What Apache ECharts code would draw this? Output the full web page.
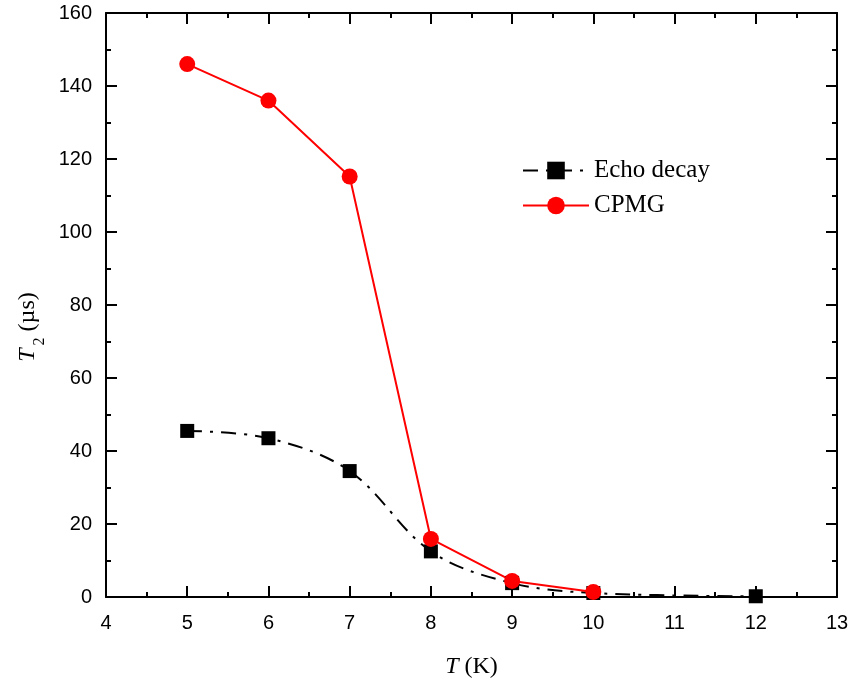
<!DOCTYPE html>
<html><head><meta charset="utf-8">
<script src="https://cdn.jsdelivr.net/npm/echarts@6/dist/echarts.min.js"></script>
<style>html,body{margin:0;padding:0;background:#fff}#c{width:853px;height:691px}</style>
</head><body><div id="c"></div>
<script>
const echoT = [5, 6, 7, 8, 9, 10, 12];
const echoVals = [45.5, 43.5, 34.5, 12.5, 3.8, 1.1, 0.2];
const cpmgT = [5, 6, 7, 8, 9, 10];
const cpmgVals = [146, 136, 115.2, 15.9, 4.4, 1.4];
const xTicks = [4,5,6,7,8,9,10,11,12,13];
const yTicks = [0,20,40,60,80,100,120,140,160];

const chart = echarts.init(document.getElementById('c'));
const axisLine = {show:true, onZero:false, lineStyle:{color:'#000', width:2}};
const axisTick = {show:true, inside:true, length:11, lineStyle:{color:'#000', width:2}};
const minorTick = {show:true, splitNumber:2, length:5, lineStyle:{color:'#000', width:2}};
const lbl = {color:'#000', fontSize:20, fontFamily:'Liberation Sans, Arial'};
const serif = 'Liberation Serif, Times New Roman';
chart.setOption({
  animation:false,
  backgroundColor:'#fff',
  grid:{left:106, top:13, width:731, height:584},
  legend:{
    left:517, top:153, orient:'vertical', itemWidth:66, itemHeight:22, itemGap:10,
    textStyle:{fontFamily:serif, fontSize:25, color:'#000'},
    data:['Echo decay','CPMG']
  },
  xAxis:[{
    type:'value', min:4, max:13, interval:1,
    axisLine, axisTick, minorTick, splitLine:{show:false},
    axisLabel:Object.assign({margin:16}, lbl),
    name:'{i|T} (K)', nameLocation:'middle', nameGap:58,
    nameTextStyle:{fontFamily:serif, fontSize:24, color:'#000',
      rich:{i:{fontStyle:'italic', fontFamily:serif, fontSize:24}}}
  },{
    type:'value', position:'top', min:4, max:13, interval:1,
    axisLine, axisTick, minorTick, splitLine:{show:false}, axisLabel:{show:false}
  }],
  yAxis:[{
    type:'value', min:0, max:160, interval:20,
    axisLine, axisTick, minorTick, splitLine:{show:false},
    axisLabel:Object.assign({margin:14}, lbl),
    name:'{i|T}{s|2}{n| (µs)}', nameLocation:'middle', nameGap:64, nameRotate:90,
    nameTextStyle:{fontFamily:serif, fontSize:24, color:'#000', padding:[0,44,0,0],
      rich:{i:{fontStyle:'italic', fontFamily:serif, fontSize:24},
            s:{fontFamily:serif, fontSize:16, verticalAlign:'bottom', padding:[0,0,-8,3]},
            n:{fontFamily:serif, fontSize:24}}}
  },{
    type:'value', position:'right', min:0, max:160, interval:20,
    axisLine, axisTick, minorTick, splitLine:{show:false}, axisLabel:{show:false}
  }],
  series:[{
    name:'Echo decay', type:'line', smooth:0.35,
    data: echoT.map((t,i)=>[t, echoVals[i]]),
    symbol:'rect', symbolSize:14,
    itemStyle:{color:'#000'},
    lineStyle:{color:'#000', width:2, type:[15,8,3,8]}
  },{
    name:'CPMG', type:'line',
    data: cpmgT.map((t,i)=>[t, cpmgVals[i]]),
    symbol:'circle', symbolSize:16,
    itemStyle:{color:'#ff0000'},
    lineStyle:{color:'#ff0000', width:2}
  }]
});
</script></body></html>
